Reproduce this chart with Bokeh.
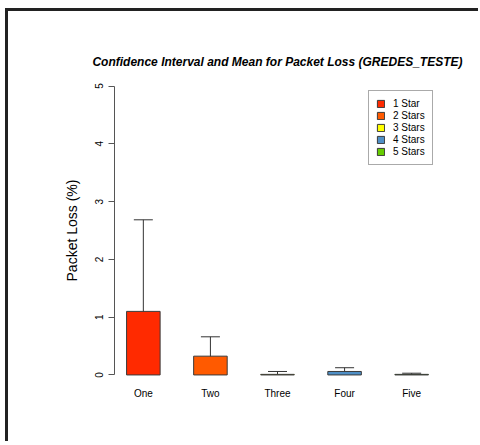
from bokeh.plotting import figure
from bokeh.layouts import column
from bokeh.models import (ColumnDataSource, Range1d, FixedTicker, Whisker,
                          TeeHead, Legend, LegendItem)
from bokeh.embed import file_html
from bokeh.resources import INLINE

# Packet loss per rating group: mean and confidence interval bounds (%)
groups = ["One", "Two", "Three", "Four", "Five"]
legend_labels = ["1 Star", "2 Stars", "3 Stars", "4 Stars", "5 Stars"]
mean_loss = [1.10, 0.325, 0.01, 0.06, 0.01]
ci_lower = [0.0, 0.0, 0.0, 0.0, 0.0]
ci_upper = [2.685, 0.66, 0.06, 0.125, 0.03]
bar_colors = ["#FF2A00", "#FF5A00", "#FFFF00", "#4F8FC6", "#66CC00"]
y_ticks = [0, 1, 2, 3, 4, 5]

positions = list(range(1, len(groups) + 1))
source = ColumnDataSource(dict(
    x=positions, mean=mean_loss, lower=ci_lower, upper=ci_upper,
    color=bar_colors, label=legend_labels,
))

FONT = "Liberation Sans"

# canvas starts 8px right / 11px down, inside the device frame lines
p = figure(
    width=470, height=430,
    x_range=Range1d(0.57, 5.43), y_range=Range1d(-0.2, 5.2),
    output_backend="svg", toolbar_location=None,
    min_border_left=106, min_border_right=38,
    min_border_top=63, min_border_bottom=55,
    background_fill_color="white", border_fill_color="white",
    outline_line_color=None,
)
p.grid.visible = False

p.title.text = "Confidence Interval and Mean for Packet Loss (GREDES_TESTE)"
p.title.align = "center"
p.title.text_font = FONT
p.title.text_font_size = "12px"
p.title.text_font_style = "bold italic"
p.title.text_color = "black"
p.title.standoff = 12

bars = p.vbar(x="x", top="mean", bottom=0, width=0.5, source=source,
              fill_color="color", line_color="#3a3a3a", line_width=1)

whisker = Whisker(
    base="x", upper="upper", lower="lower", source=source,
    line_color="#333333", line_width=1,
    upper_head=TeeHead(size=19, line_color="#333333", line_width=1),
    lower_head=None,
)
p.add_layout(whisker)

# y axis
ya = p.yaxis[0]
ya.ticker = FixedTicker(ticks=y_ticks)
ya.bounds = (0, 5)
ya.axis_label = "Packet Loss (%)"
ya.axis_label_text_font = FONT
ya.axis_label_text_font_size = "14px"
ya.axis_label_text_font_style = "normal"
ya.axis_label_text_color = "black"
ya.axis_label_standoff = 13
ya.major_label_orientation = "vertical"
ya.major_label_text_font = FONT
ya.major_label_text_font_size = "10px"
ya.major_label_text_color = "black"
ya.major_label_standoff = 5
ya.axis_line_color = "#555555"
ya.major_tick_line_color = "#555555"
ya.major_tick_out = 6
ya.major_tick_in = 0
ya.minor_tick_line_color = None

# x axis: group names only
xa = p.xaxis[0]
xa.ticker = FixedTicker(ticks=positions)
xa.major_label_overrides = {pos: name for pos, name in zip(positions, groups)}
xa.major_label_text_font = FONT
xa.major_label_text_font_size = "10px"
xa.major_label_text_color = "black"
xa.major_label_standoff = 1
xa.major_tick_out = 0
xa.major_tick_in = 0
xa.axis_line_color = None
xa.major_tick_line_color = None
xa.minor_tick_line_color = None

legend = Legend(
    items=[LegendItem(label=lab, renderers=[bars], index=i)
           for i, lab in enumerate(legend_labels)],
    location=(254, 221),
    label_text_font=FONT, label_text_font_size="10px",
    label_text_color="black",
    glyph_width=9, glyph_height=9, label_height=9,
    label_standoff=8, spacing=1, padding=7, margin=0,
    border_line_color="#555555", border_line_width=1,
    background_fill_color="white", background_fill_alpha=1,
)
p.add_layout(legend)

# device frame: heavy rules along the top and left edges; the wrapper is
# sized to hold the figure plus its border so nothing overflows
page = column(p, width=473, height=433, styles={
    "margin-left": "5px", "margin-top": "8px",
    "border-left": "3px solid #222", "border-top": "3px solid #222",
    "overflow": "hidden",
})

open("out.html", "w").write(file_html(page, INLINE))
